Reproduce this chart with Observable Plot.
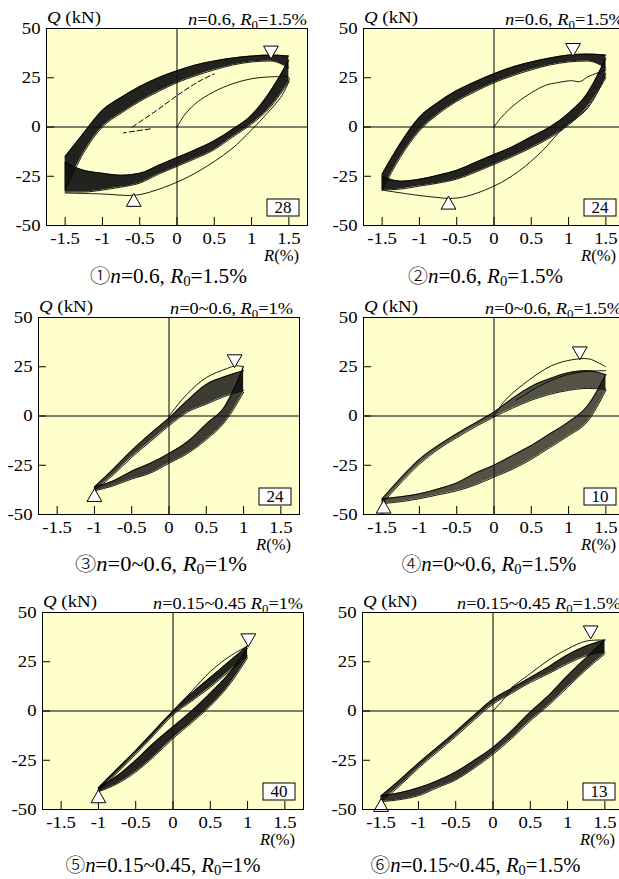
<!DOCTYPE html>
<html><head><meta charset="utf-8">
<script src="https://cdn.jsdelivr.net/npm/d3@7"></script>
<script src="https://cdn.jsdelivr.net/npm/@observablehq/plot@0.6"></script>
<style>
html,body{margin:0;padding:0;background:#fff;overflow:hidden}
#wrap{position:relative;width:619px;height:879px;overflow:hidden;background:#fff}
#wrap svg{position:absolute;max-width:none}
#wrap svg text{font-family:"Liberation Serif","DejaVu Serif",serif}
</style></head><body><div id="wrap"></div>
<script>
// ---- axis ticks ----
const xTicks = [-1.5, -1, -0.5, 0, 0.5, 1, 1.5];
const yTicks = [-50, -25, 0, 25, 50];
// ---- drift grids (R, %) ----
const R15 = [-1.5, -1.25, -1, -0.75, -0.5, -0.25, 0, 0.25, 0.5, 0.75, 1, 1.25, 1.5];
const R10 = [-1, -0.75, -0.5, -0.25, 0, 0.25, 0.5, 0.75, 1];

// ---- panel 1: reloading band (upper) and unloading band (lower), Q in kN ----
const p1UpHi = [-15, -3, 8.5, 15, 20.5, 25, 28.5, 31.5, 33.5, 35, 36, 36.5, 36];
const p1UpLo = [-32, -13, 0, 7, 13, 18, 22.5, 26, 29, 31.5, 33, 33.5, 30];
const p1DnHi = [-18, -22, -23.5, -24.5, -23.5, -19.5, -15.5, -11.5, -7, -1, 6, 18, 34];
const p1DnLo = [-33, -33, -32, -30.5, -28.5, -24, -20, -16, -11.5, -5, 1.5, 10, 23];
const p1First = [[0,0],[0.1,6],[0.25,12],[0.5,18],[0.75,22],[1,24.5],[1.3,25.5],[1.5,25],[1.45,19],[1.39,15],[1.21,7],[1,-1.5],[0.72,-11.5],[0.31,-22],[0,-28],[-0.36,-33],[-0.58,-34.7],[-1,-34],[-1.5,-33.5]];
const p1DashA = [[-0.36,-1],[-0.55,-2],[-0.72,-3]];
const p1DashB = [[-0.6,0],[-0.27,8.5],[0.04,17],[0.31,23.5],[0.5,27]];
const p1Peaks = [[1.26, 38.9, "down"], [-0.58, -38.1, "up"]];

// ---- panel 2 ----
const p2UpHi = [-24, -8, 5, 12.5, 18.5, 23, 27, 30.5, 33, 35, 36.5, 37, 36.5];
const p2UpLo = [-32, -15, -2, 6.5, 13, 18, 22.5, 26, 29, 31.5, 33, 33.5, 30];
const p2DnHi = [-25, -27.5, -26.5, -24.5, -22, -18, -14, -10, -5, 0, 7, 17, 35];
const p2DnLo = [-32, -31.5, -30, -28.5, -26.5, -23, -19, -15, -10.5, -5.5, 1, 10, 25];
const p2First = [[0,0],[0.1,5],[0.33,13],[0.68,21],[0.85,22.5],[1.04,23.5],[1.15,23],[1.26,25.5],[1.5,29]];
const p2Unload = [[1.5,27],[1.35,15],[1.22,8],[0.95,0.3],[0.64,-12.4],[0.33,-22.5],[0,-30],[-0.48,-36],[-0.88,-35.3],[-1.5,-32]];
const p2Peaks = [[1.06, 40.2, "down"], [-0.61, -39.5, "up"]];

// ---- panel 3 ----
const p3UpHi = [-36, -27, -17.5, -9, -1, 8, 16, 20, 23];
const p3UpLo = [-38, -30, -21, -13, -5, 2, 6, 10, 13];
const p3DnHi = [-36, -33, -28, -24, -19, -13, -4, 5, 25];
const p3DnLo = [-38, -35.5, -32, -29, -24, -19, -12, -3, 12];
const p3First = [[0,0],[0.24,11],[0.5,19.5],[0.77,24],[0.9,25.5],[1,25]];
const p3Peaks = [[0.88, 28.9, "down"], [-1.0, -41.2, "up"]];

// ---- panel 4 ----
const p4UpHi = [-42, -31.5, -22, -15, -9, -3.5, 2, 9, 15, 19, 22, 23, 21];
const p4UpLo = [-44.5, -34, -24.5, -17, -11, -5.5, -0.5, 4, 8, 11, 13, 14, 13.5];
const p4DnHi = [-42, -41, -39.5, -37, -34, -29, -25, -20, -15, -9, -3, 5, 21];
const p4DnLo = [-44.5, -43.5, -42, -40, -38, -35, -31, -27, -22, -16, -10, -3, 13];
const p4First = [[0,0],[0.15,8],[0.46,18],[0.77,25.5],[1.04,28.5],[1.27,29],[1.4,27],[1.5,25]];
const p4Second = [[0.3,8],[0.6,15],[0.9,20],[1.2,22.5],[1.5,23]];
const p4Peaks = [[1.15, 32.9, "down"], [-1.48, -47.1, "up"]];

// ---- panel 5 ----
const p5UpHi = [-39, -29.5, -20, -10, 0, 9, 17, 25, 33];
const p5UpLo = [-41, -31.5, -22, -12, -2, 5, 12, 20, 28];
const p5DnHi = [-39, -33, -25, -16, -8, 0, 9, 19, 32];
const p5DnLo = [-41, -37, -31, -23, -14, -6, 2.5, 13, 27];
const p5First = [[0,0],[0.25,10],[0.5,20],[0.75,27.5],[1,33]];
const p5Peaks = [[1.01, 37.0, "down"], [-1.0, -44.4, "up"]];

// ---- panel 6 ----
const p6UpHi = [-43, -35, -26.5, -18.5, -10.5, -2, 6, 11.5, 17, 22.5, 28.5, 33, 36];
const p6UpLo = [-46, -38, -29, -21, -13, -4.5, 3.5, 9, 14.5, 19, 24, 28, 30];
const p6DnHi = [-43, -41.5, -39, -35.5, -31, -25, -18.5, -10, -0.5, 8, 18, 27, 36];
const p6DnLo = [-46, -45, -43, -39, -35, -29, -22, -14, -5, 3, 12, 21, 29];
const p6First = [[0,0],[0.12,5],[0.25,11]];
const p6Second = [[0.25,12],[0.5,19],[0.75,26],[1,31.5],[1.25,35.5],[1.5,36]];
const p6Peaks = [[1.31, 41.0, "down"], [-1.5, -48.8, "up"]];

// ---- texts ----
const boxNumbers = ["28", "24", "24", "10", "40", "13"];
const titles = [
  [["n","i"],["=0.6, "],["R","i"],["0","s"],["=1.5%"]],
  [["n","i"],["=0.6, "],["R","i"],["0","s"],["=1.5%"]],
  [["n","i"],["=0~0.6, "],["R","i"],["0","s"],["=1%"]],
  [["n","i"],["=0~0.6, "],["R","i"],["0","s"],["=1.5%"]],
  [["n","i"],["=0.15~0.45 "],["R","i"],["0","s"],["=1%"]],
  [["n","i"],["=0.15~0.45 "],["R","i"],["0","s"],["=1.5%"]]
];
const circled = ["①","②","③","④","⑤","⑥"];
const captions = [
  [["n","i"],["=0.6, "],["R","i"],["0","s"],["=1.5%"]],
  [["n","i"],["=0.6, "],["R","i"],["0","s"],["=1.5%"]],
  [["n","i"],["=0~0.6, "],["R","i"],["0","s"],["=1%"]],
  [["n","i"],["=0~0.6, "],["R","i"],["0","s"],["=1.5%"]],
  [["n","i"],["=0.15~0.45, "],["R","i"],["0","s"],["=1%"]],
  [["n","i"],["=0.15~0.45, "],["R","i"],["0","s"],["=1.5%"]]
];

// ---- layout ----
const FW = 261, FH = 197, ML = 46, MT = 30, MR = 10, MB = 70;
const SERIF = "'Liberation Serif','DejaVu Serif',serif";
const layout = [
  {L: 46,    T: 28,    cx: 122.5, cy: 58, cw: 157, tEnd: 0,  tw: 119, op: 0.93},
  {L: 363,   T: 27.5,  cx: 122.5, cy: 58, cw: 155, tEnd: 0,  tw: 119, op: 0.93},
  {L: 38,    T: 316.7, cx: 123,   cy: 57, cw: 172, tEnd: -6, tw: 123, op: 0.82},
  {L: 363.3, T: 316.7, cx: 126,   cy: 57, cw: 175, tEnd: -2, tw: 137, op: 0.72},
  {L: 41.7,  T: 612.3, cx: 121,   cy: 63, cw: 195, tEnd: 0,  tw: 150, op: 0.92},
  {L: 361.7, T: 612.3, cx: 113.5, cy: 63, cw: 210, tEnd: -2, tw: 164, op: 0.85}
];

const panels = [
  {grid: R15, upHi: p1UpHi, upLo: p1UpLo, dnHi: p1DnHi, dnLo: p1DnLo, lines: [p1First], dashed: [p1DashA, p1DashB], peaks: p1Peaks},
  {grid: R15, upHi: p2UpHi, upLo: p2UpLo, dnHi: p2DnHi, dnLo: p2DnLo, lines: [p2First, p2Unload], dashed: [], peaks: p2Peaks},
  {grid: R10, upHi: p3UpHi, upLo: p3UpLo, dnHi: p3DnHi, dnLo: p3DnLo, lines: [p3First], dashed: [], peaks: p3Peaks},
  {grid: R15, upHi: p4UpHi, upLo: p4UpLo, dnHi: p4DnHi, dnLo: p4DnLo, lines: [p4First, p4Second], dashed: [], peaks: p4Peaks},
  {grid: R10, upHi: p5UpHi, upLo: p5UpLo, dnHi: p5DnHi, dnLo: p5DnLo, lines: [p5First], dashed: [], peaks: p5Peaks},
  {grid: R15, upHi: p6UpHi, upLo: p6UpLo, dnHi: p6DnHi, dnLo: p6DnLo, lines: [p6First, p6Second], dashed: [], peaks: p6Peaks}
];

function rich(textSel, parts, subSize, subDy) {
  parts.forEach(([t, f], j) => {
    const ts = textSel.append("tspan").text(t);
    if (f === "i") ts.attr("font-style", "italic");
    if (f === "s") ts.attr("font-size", subSize).attr("dy", subDy);
    const prev = parts[j - 1];
    if (prev && prev[1] === "s") ts.attr("dy", -subDy);
  });
}
// stretch a text horizontally about its anchor so that it takes the target width
function fit(sel, target) {
  const w = sel.node().getBBox().width;
  if (!w) return;
  const sx = target / w, x = +sel.attr("x"), y = +sel.attr("y");
  sel.attr("transform", `translate(${x},${y}) scale(${sx},1) translate(${-x},${-y})`);
}

const wrap = document.getElementById("wrap");

panels.forEach((p, idx) => {
  const lay = layout[idx];
  const up = p.grid.map((R, i) => ({R, hi: p.upHi[i], lo: p.upLo[i]}));
  const dn = p.grid.map((R, i) => ({R, hi: p.dnHi[i], lo: p.dnLo[i]}));
  const lines = p.lines.flatMap((arr, k) => arr.map(([R, Q]) => ({R, Q, k})));
  const dashed = p.dashed.flatMap((arr, k) => arr.map(([R, Q]) => ({R, Q, k})));
  const peaks = p.peaks.map(([R, Q, dir]) => ({R, Q, rot: dir === "down" ? 180 : 0}));
  const bandFill = "#111";

  const svg = Plot.plot({
    width: FW + ML + MR, height: FH + MT + MB,
    marginLeft: ML, marginRight: MR, marginTop: MT, marginBottom: MB,
    x: {domain: [-1.75, 1.75]},
    y: {domain: [-50, 50]},
    style: {fontFamily: SERIF, fontSize: "17px", background: "transparent", color: "black", overflow: "visible"},
    marks: [
      Plot.frame({fill: "#FFFFCC", stroke: null}),
      Plot.ruleX([0], {stroke: "black", strokeWidth: 1}),
      Plot.ruleY([0], {stroke: "black", strokeWidth: 1}),
      Plot.ruleX(xTicks, {insetTop: FH - 8, stroke: "black", strokeWidth: 1}),
      Plot.ruleY(yTicks, {insetRight: FW - 8, stroke: "black", strokeWidth: 1}),
      Plot.areaY(up, {x: "R", y1: "lo", y2: "hi", fill: bandFill, fillOpacity: lay.op, curve: "monotone-x"}),
      Plot.areaY(dn, {x: "R", y1: "lo", y2: "hi", fill: bandFill, fillOpacity: lay.op, curve: "monotone-x"}),
      Plot.line(up, {x: "R", y: "hi", stroke: "black", strokeWidth: 0.9, curve: "monotone-x"}),
      Plot.line(up, {x: "R", y: "lo", stroke: "black", strokeWidth: 0.9, curve: "monotone-x"}),
      Plot.line(dn, {x: "R", y: "hi", stroke: "black", strokeWidth: 0.9, curve: "monotone-x"}),
      Plot.line(dn, {x: "R", y: "lo", stroke: "black", strokeWidth: 0.9, curve: "monotone-x"}),
      Plot.line(lines, {x: "R", y: "Q", z: "k", stroke: "black", strokeWidth: 0.9, curve: "catmull-rom"}),
      Plot.line(dashed, {x: "R", y: "Q", z: "k", stroke: "black", strokeWidth: 1, strokeDasharray: "5,3", curve: "catmull-rom"}),
      Plot.dot(peaks, {x: "R", y: "Q", symbol: "triangle", r: 5.5, fill: "white", stroke: "black", strokeWidth: 1, rotate: "rot"}),
      Plot.axisX({ticks: xTicks, tickSize: 0, tickPadding: 6, tickFormat: d => String(d), label: null}),
      Plot.axisY({ticks: yTicks, tickSize: 0, tickPadding: 6, tickFormat: d => String(d), label: null}),
      Plot.frame({stroke: "black", strokeWidth: 1})
    ]
  });

  svg.style.left = (lay.L - ML) + "px";
  svg.style.top = (lay.T - MT) + "px";
  wrap.appendChild(svg);

  // widen tick labels slightly, about their own anchor
  d3.select(svg).selectAll('g[aria-label="x-axis tick label"] text, g[aria-label="y-axis tick label"] text').each(function () {
    const t = this.getAttribute("transform");
    if (t) this.setAttribute("transform", t + " scale(1.1,1)");
  });

  const g = d3.select(svg).append("g").attr("font-family", SERIF).attr("fill", "black");

  const tq = g.append("text").attr("x", ML + 1).attr("y", MT - 5).attr("font-size", 17).attr("text-anchor", "start");
  rich(tq, [["Q", "i"], [" (kN)"]], 12, 4);
  fit(tq, 54);
  const tt = g.append("text").attr("x", ML + FW + lay.tEnd).attr("y", MT - 3).attr("font-size", 17).attr("text-anchor", "end");
  rich(tt, titles[idx], 12, 4);
  fit(tt, lay.tw);
  const tr = g.append("text").attr("x", ML + FW - 8).attr("y", MT + FH + 36).attr("font-size", 17).attr("text-anchor", "end");
  rich(tr, [["R", "i"], ["(%)"]], 12, 4);
  fit(tr, 36);
  g.append("rect").attr("x", ML + FW - 40).attr("y", MT + FH - 26).attr("width", 32).attr("height", 17)
    .attr("fill", "white").attr("stroke", "black").attr("stroke-width", 1);
  g.append("text").attr("x", ML + FW - 24).attr("y", MT + FH - 12).attr("font-size", 17).attr("text-anchor", "middle").text(boxNumbers[idx]);
  const tc = g.append("text").attr("x", ML + lay.cx).attr("y", MT + FH + lay.cy).attr("font-size", 20).attr("text-anchor", "middle");
  tc.append("tspan").attr("font-family", "'Noto Sans CJK JP','DejaVu Sans',sans-serif").attr("font-size", 19).attr("font-weight", 300).text(circled[idx]);
  rich(tc, captions[idx], 14, 3);
  fit(tc, lay.cw);
});
</script>
</body></html>
